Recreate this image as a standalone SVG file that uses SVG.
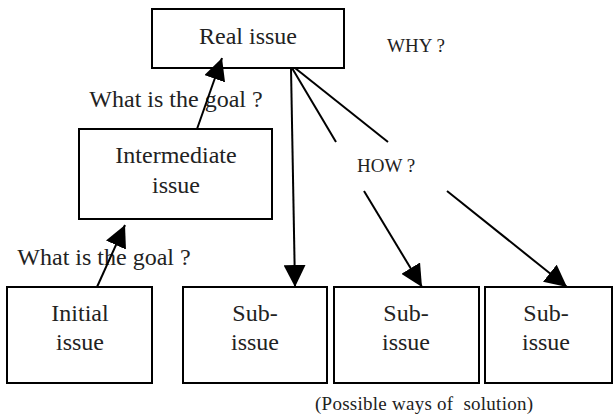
<svg xmlns="http://www.w3.org/2000/svg" width="613" height="417" viewBox="0 0 613 417">
<style>
.box{fill:#fff;stroke:#000;stroke-width:2}
.t{font-family:"Liberation Serif",serif;font-size:24px;fill:#222;text-anchor:middle}
.s{font-family:"Liberation Serif",serif;font-size:19px;fill:#222}
.c{stroke:#000;stroke-width:2;fill:none}
</style>
<defs>
<marker id="ah" markerUnits="userSpaceOnUse" markerWidth="24" markerHeight="22" refX="22" refY="11" orient="auto" viewBox="0 0 24 22">
<path d="M0,0 L22,11 L0,22 z" fill="#000"/>
</marker>
</defs>
<g id="real"><rect class="box" x="152" y="9" width="192" height="59"/><text class="t" x="248" y="44">Real issue</text></g>
<g id="intermediate"><rect class="box" x="79" y="129" width="193" height="90"/><text class="t" x="176" y="163">Intermediate</text><text class="t" x="176" y="193">issue</text></g>
<g id="initial"><rect class="box" x="7" y="287" width="145" height="96"/><text class="t" x="80" y="321">Initial</text><text class="t" x="80" y="350">issue</text></g>
<g id="sub1"><rect class="box" x="183" y="287" width="144" height="96"/><text class="t" x="255" y="321">Sub-</text><text class="t" x="255" y="350">issue</text></g>
<g id="sub2"><rect class="box" x="334" y="287" width="145" height="96"/><text class="t" x="406" y="321">Sub-</text><text class="t" x="406" y="350">issue</text></g>
<g id="sub3"><rect class="box" x="485" y="287" width="127" height="96"/><text class="t" x="546" y="321">Sub-</text><text class="t" x="546" y="350">issue</text></g>
<g id="labels">
<text class="t" x="176" y="107">What is the goal ?</text>
<text class="t" x="104" y="265">What is the goal ?</text>
<text class="s" x="387" y="52">WHY ?</text>
<text class="s" x="357" y="172">HOW ?</text>
<text class="s" x="315" y="410" textLength="218">(Possible ways of&#160; solution)</text>
</g>
<g id="connectors">
<line class="c" x1="197" y1="129" x2="222" y2="58" marker-end="url(#ah)"/>
<line class="c" x1="97" y1="287" x2="125" y2="225" marker-end="url(#ah)"/>
<line class="c" x1="291" y1="68" x2="295" y2="287" marker-end="url(#ah)"/>
<line class="c" x1="292" y1="68" x2="336" y2="142"/>
<line class="c" x1="295" y1="68" x2="388" y2="142"/>
<line class="c" x1="364" y1="191" x2="422" y2="287" marker-end="url(#ah)"/>
<line class="c" x1="447" y1="191" x2="567" y2="287" marker-end="url(#ah)"/>
</g>
</svg>
